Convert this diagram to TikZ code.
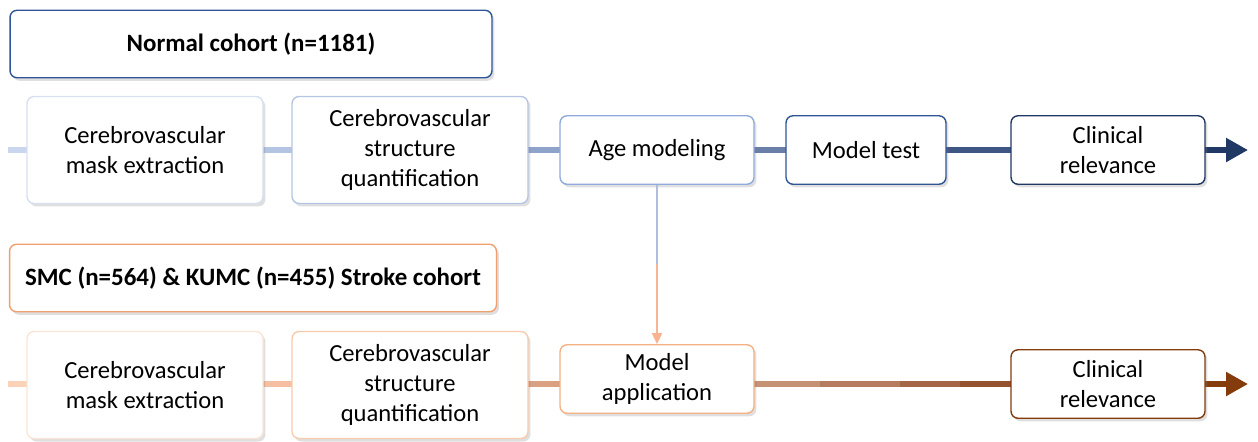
\documentclass[tikz,border=0pt]{standalone}
\usepackage{fontspec}
\setmainfont{Carlito}
\usetikzlibrary{arrows.meta,shadows}

\definecolor{navy}{HTML}{203864}
\definecolor{midblue}{HTML}{2F5597}
\definecolor{brown}{HTML}{843C0C}
\definecolor{peach}{HTML}{F0A070}

\begin{document}
\begin{tikzpicture}[
    x=0.02cm, y=-0.02cm,
    stage/.style={draw, fill=white, rounded corners=4pt, line width=0.8pt,
        align=center, inner sep=2pt, font=\fontsize{14}{17.2}\selectfont,
        drop shadow={opacity=0.25, shadow xshift=0.05cm, shadow yshift=-0.06cm}},
    big stage/.style={stage, minimum width=4.72cm, minimum height=2.14cm},
    small stage/.style={stage, minimum width=3.88cm, minimum height=1.37cm},
    cohort/.style={stage, font=\fontsize{14.2}{17}\selectfont\bfseries,
        minimum height=1.35cm},
    flow/.style={line width=3pt},
    feed/.style={line width=1.2pt}
]
\path[use as bounding box] (0,0) rectangle (1258,441);

% normal cohort
\node[cohort, draw=midblue, minimum width=9.64cm] (normal) at (251,44)
    {Normal cohort (n=1181)};

\coordinate (start1) at (8,150);
\coordinate (end1) at (1248,150);

\draw[flow, draw={rgb,255:red,201;green,214;blue,238}] (start1) -- (145,150);
\draw[flow, draw={rgb,255:red,180;green,197;blue,228}] (145,150) -- (410,150);
\draw[flow, draw={rgb,255:red,142;green,163;blue,201}] (410,150) -- (657,150);
\draw[flow, draw={rgb,255:red,106;green,127;blue,168}] (657,150) -- (866,150);
\draw[flow, draw={rgb,255:red,62;green,86;blue,131}] (866,150) -- (1108,150);
\draw[flow, draw=navy, -{Triangle[length=0.44cm, width=0.46cm]}]
    (1108,150) -- (end1);

\node[big stage, draw={rgb,255:red,214;green,224;blue,242}] (mask1) at (145,150)
    {Cerebrovascular\\mask extraction};
\node[big stage, draw={rgb,255:red,180;green,197;blue,228}] (quant1) at (410,150)
    {Cerebrovascular\\structure\\quantification};
\node[small stage, draw={rgb,255:red,143;green,170;blue,220}] (age) at (657,150)
    {Age modeling};
\node[small stage, draw=midblue, minimum width=3.2cm] (test) at (866,150)
    {Model test};
\node[small stage, draw=navy] (clin1) at (1108,150)
    {Clinical\\relevance};

% stroke cohort
\node[cohort, draw=peach, minimum width=9.74cm] (stroke) at (253,278)
    {SMC (n=564) \& KUMC (n=455) Stroke cohort};

\coordinate (start2) at (8,384);
\coordinate (end2) at (1248,384);

\draw[flow, draw={rgb,255:red,250;green,210;blue,184}] (start2) -- (145,384);
\draw[flow, draw={rgb,255:red,244;green,192;blue,160}] (145,384) -- (410,384);
\draw[flow, draw={rgb,255:red,217;green,160;blue,130}] (410,384) -- (657,384);
\draw[flow, draw={rgb,255:red,198;green,146;blue,118}] (657,384) -- (820,384);
\draw[flow, draw={rgb,255:red,182;green,124;blue,94}] (820,384) -- (900,384);
\draw[flow, draw={rgb,255:red,164;green,102;blue,70}] (900,384) -- (960,384);
\draw[flow, draw={rgb,255:red,148;green,82;blue,46}] (960,384) -- (1108,384);
\draw[flow, draw=brown, -{Triangle[length=0.44cm, width=0.46cm]}]
    (1108,384) -- (end2);

\node[big stage, draw={rgb,255:red,251;green,229;blue,214}] (mask2) at (145,385)
    {Cerebrovascular\\mask extraction};
\node[big stage, draw={rgb,255:red,248;green,203;blue,173}] (quant2) at (410,385)
    {Cerebrovascular\\structure\\quantification};
\node[small stage, draw={rgb,255:red,244;green,177;blue,131}] (apply) at (657,379)
    {Model\\application};
\node[small stage, draw=brown] (clin2) at (1108,384)
    {Clinical\\relevance};

% age model fed into the stroke cohort
\coordinate (feedmid) at (657,264);
\draw[feed, draw={rgb,255:red,175;green,190;blue,220}] (age.south) -- (feedmid);
\draw[feed, draw={rgb,255:red,248;green,180;blue,144}, -{Triangle[length=0.22cm, width=0.2cm]}]
    (feedmid) -- (apply.north);

\end{tikzpicture}
\end{document}
